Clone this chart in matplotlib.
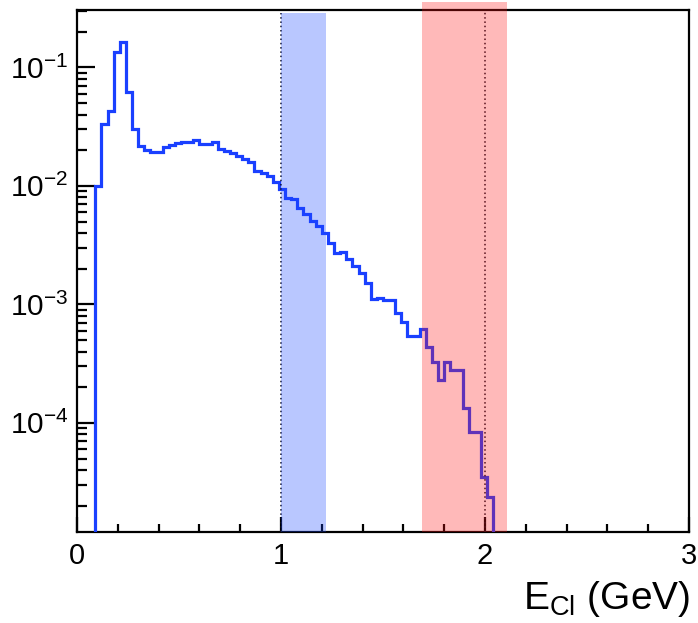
import numpy as np
import matplotlib
matplotlib.use("Agg")
import matplotlib.pyplot as plt
from matplotlib.patches import Rectangle
from matplotlib.ticker import FixedLocator, NullFormatter

plt.rcParams['font.family'] = ['Liberation Sans', 'DejaVu Sans']
plt.rcParams['mathtext.fontset'] = 'custom'
plt.rcParams['mathtext.rm'] = 'Liberation Sans'
plt.rcParams['mathtext.it'] = 'Liberation Sans:italic'
plt.rcParams['mathtext.default'] = 'regular'

# ========== 데이터 ==========
bin_width = 0.03
first_edge = 0.09
counts = [
    0.0099, 0.0333, 0.043, 0.136, 0.163, 0.0625, 0.0303, 0.0215, 0.0200, 0.0192,
    0.0192, 0.0213, 0.0223, 0.0230, 0.0235, 0.0235, 0.0242, 0.0227, 0.0227, 0.0233,
    0.0205, 0.0198, 0.0190, 0.0180, 0.0170, 0.0158, 0.0133, 0.0129, 0.0122, 0.0107,
    0.0095, 0.0079, 0.0077, 0.0065, 0.0058, 0.00504, 0.00457, 0.00402, 0.00331, 0.00269,
    0.00276, 0.00240, 0.00211, 0.00185, 0.00153, 0.00110, 0.00114, 0.00108, 0.00108, 0.000853,
    0.000711, 0.000542, 0.000542, 0.000625, 0.000440, 0.000329, 0.000231, 0.000324, 0.000281, 0.000281,
    0.000133, 0.0000834, 0.0000834, 0.0000352, 0.0000239,
]
edges = first_edge + bin_width * np.arange(len(counts) + 1)

blue_band = (1.0, 1.22)
red_band = (1.69, 2.11)
cut_lines = [1.0, 2.0]

x_range = (0, 3)
y_range = (1.2e-5, 0.305)
y_major = [1e-4, 1e-3, 1e-2, 1e-1]
y_major_labels = ['$10^{-4}$', '$10^{-3}$', '$10^{-2}$', '$10^{-1}$']
x_major = [0, 1, 2, 3]

# ========== 그림 ==========
fig = plt.figure(figsize=(6.98, 6.23), dpi=100)
ax = fig.add_axes([77 / 698, 91 / 623, 612 / 698, 522 / 623])
ax.set_yscale('log')
ax.set_xlim(*x_range)
ax.set_ylim(*y_range)

ax.stairs(counts, edges, baseline=1e-8, color='#1a40ff', lw=2.3, zorder=3)

# 점선
ax.plot([cut_lines[0]] * 2, [y_range[0], 0.288], color='#101020', lw=1.1,
        ls=(0, (1, 1.8)), zorder=4)
ax.plot([cut_lines[1]] * 2, [y_range[0], y_range[1]], color='#101020', lw=1.1,
        ls=(0, (1, 1.8)), zorder=4)

# 반투명 박스
ax.add_patch(Rectangle((blue_band[0], y_range[0]), blue_band[1] - blue_band[0],
                       0.288 - y_range[0], facecolor=(0.10, 0.28, 1.0), alpha=0.3,
                       lw=0, zorder=5, clip_on=False))
ax.add_patch(Rectangle((red_band[0], y_range[0]), red_band[1] - red_band[0],
                       0.355 - y_range[0], facecolor=(1.0, 0.09, 0.09), alpha=0.3,
                       lw=0, zorder=5, clip_on=False))

# 축 스타일
for s in ax.spines.values():
    s.set_linewidth(1.6)
ax.yaxis.set_major_locator(FixedLocator(y_major))
ax.set_yticklabels(y_major_labels)
ax.yaxis.set_minor_locator(FixedLocator(
    [m * 10.0 ** e for e in range(-6, 0) for m in range(2, 10)]))
ax.yaxis.set_minor_formatter(NullFormatter())
ax.set_xticks(x_major)
ax.set_xticks(np.arange(0, 3.01, 0.2), minor=True)

ax.tick_params(which='both', direction='in', top=False, right=False, width=1.6)
ax.tick_params(axis='y', which='major', length=13, pad=6, labelsize=21.5)
ax.tick_params(axis='y', which='minor', length=7)
ax.tick_params(axis='x', which='major', length=11, pad=7, labelsize=21)
ax.tick_params(axis='x', which='minor', length=6)

# x축 제목 (오른쪽 끝 정렬)
fig.text(690 / 698, 14 / 623, 'E$_{Cl}$ (GeV)', fontsize=28,
         ha='right', va='baseline')

fig.savefig('out.png', dpi=100)
